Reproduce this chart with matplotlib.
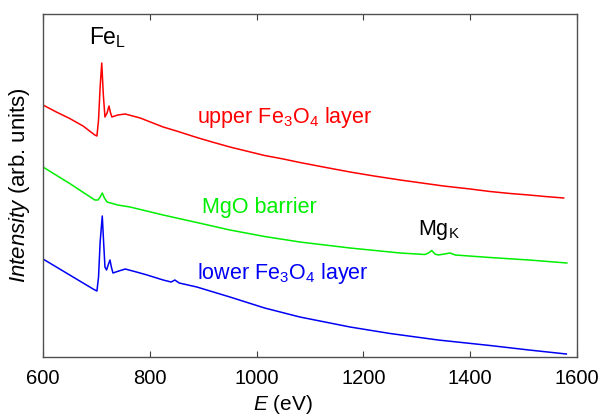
import matplotlib
matplotlib.use("Agg")
import matplotlib.pyplot as plt

# ---------- Spectra (arb. units) ----------

energy_upper = [600, 625, 650, 675, 697, 701, 704, 707, 710, 713, 716, 720, 723.6, 726, 729,
                740, 754, 768, 782, 825, 850, 888, 920, 950, 1015, 1050, 1081, 1125, 1175,
                1220, 1269, 1350, 1400, 1437, 1475, 1510, 1540, 1575]
intensity_upper = [252, 245, 238.5, 231, 222, 221, 237, 270, 294, 262, 240, 244, 251, 245, 240,
                   242, 243, 241, 239, 230, 226, 219.5, 214.5, 210, 201.5, 198, 194.5, 190, 185,
                   181, 177, 171, 168, 165.5, 163.5, 162, 160.5, 159]

energy_mgo = [600, 650, 697, 703, 707, 711, 715, 720, 740, 763, 825, 888, 950, 1015, 1081,
              1175, 1269, 1315, 1322, 1328, 1334, 1340, 1352, 1362, 1372, 1437, 1510, 1581]
intensity_mgo = [190, 173.5, 157, 157, 160, 164, 159, 155, 152, 150, 142, 134.5, 127, 120.5, 115,
                 109, 104, 102.5, 104, 106.5, 103, 102, 103, 104, 102, 99.5, 97, 94]

energy_lower = [600, 650, 697, 701, 704, 707, 711, 713, 716, 719, 722, 725.5, 728, 731,
                742, 754, 775, 795, 825, 840, 847, 855, 888, 950, 1015, 1081, 1175, 1250,
                1340, 1437, 1510, 1580]
intensity_lower = [98, 82, 67, 66, 80, 115, 141, 120, 90, 87, 92, 97, 90, 84,
                   86, 88, 85, 82, 77, 75, 77, 74, 70, 60, 49, 40, 30, 23.5,
                   17, 11.5, 7, 3]

x_ticks = [600, 800, 1000, 1200, 1400, 1600]

# ---------- Plot ----------

plt.rcParams["font.family"] = ["Liberation Sans", "DejaVu Sans"]
plt.rcParams["mathtext.fontset"] = "custom"
plt.rcParams["mathtext.rm"] = "Liberation Sans"
plt.rcParams["mathtext.it"] = "Liberation Sans:italic"

fig = plt.figure(figsize=(6.02, 4.16), dpi=100)
ax = fig.add_axes([43 / 602, 59 / 416, 534 / 602, 343 / 416])

red = "#ff0000"
green = "#00ee00"
blue = "#0000f5"

ax.plot(energy_upper, intensity_upper, color=red, lw=1.1)
ax.plot(energy_mgo, intensity_mgo, color=green, lw=1.1)
ax.plot(energy_lower, intensity_lower, color=blue, lw=1.1)

fs = 15.5
ax.text(686, 313, r"Fe$_\mathregular{L}$", fontsize=16.5, ha="left", va="baseline")
ax.text(888, 233.7, r"upper Fe$_\mathregular{3}$O$_\mathregular{4}$ layer", color=red,
        fontsize=fs, ha="left", va="baseline")
ax.text(897, 144.3, "MgO barrier", color=green, fontsize=fs, ha="left", va="baseline")
ax.text(889, 77.7, r"lower Fe$_\mathregular{3}$O$_\mathregular{4}$ layer", color=blue,
        fontsize=fs, ha="left", va="baseline")
ax.text(1302, 122, r"Mg$_\mathregular{K}$", fontsize=fs, ha="left", va="baseline")

ax.set_xlim(600, 1600)
ax.set_ylim(0, 343)
ax.set_xticks(x_ticks)
ax.set_yticks([])
ax.tick_params(axis="x", direction="in", top=True, length=4, width=0.8,
               pad=9, labelsize=14.5, color="#404040")

for s in ax.spines.values():
    s.set_color("#505050")
    s.set_linewidth(1.0)

ax.set_xlabel(r"$\mathit{E}$ (eV)", fontsize=15)
ax.xaxis.set_label_coords(0.45, -0.105)
ax.set_ylabel(r"$\mathit{Intensity}$ (arb. units)", fontsize=16, labelpad=8)

fig.savefig("out.png", dpi=100)
